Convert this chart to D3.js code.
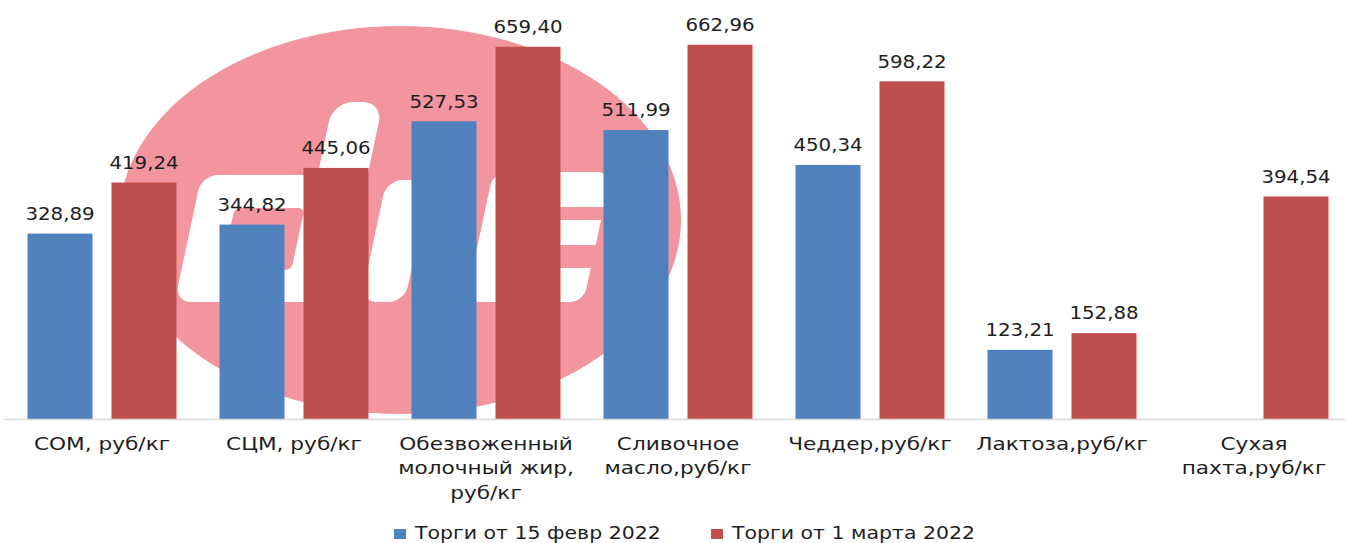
<!DOCTYPE html>
<html>
<head>
<meta charset="utf-8">
<script src="https://cdn.jsdelivr.net/npm/d3@7"></script>
<style>
	body { margin: 0; background: #fff; }
	svg { display: block; }
	text { font-family: "DejaVu Sans", sans-serif; fill: #1e1e1e; }
</style>
</head>
<body>
<svg id="chart" width="1349" height="543"></svg>
<script>

var categories = ["СОМ, руб/кг", "СЦМ, руб/кг", "Обезвоженный\nмолочный жир,\nруб/кг", "Сливочное\nмасло,руб/кг", "Чеддер,руб/кг", "Лактоза,руб/кг", "Сухая\nпахта,руб/кг"];
var seriesNames = ["Торги от 15 февр 2022", "Торги от 1 марта 2022"];
var feb15 = [328.89, 344.82, 527.53, 511.99, 450.34, 123.21, null];
var mar1 = [419.24, 445.06, 659.40, 662.96, 598.22, 152.88, 394.54];
var seriesColors = ["#4f81bd", "#c0504d"];

var ru = d3.formatLocale({decimal: ",", thousands: " ", grouping: [3], currency: ["", " ₽"]});
var fmt = ru.format(".2f");

var svg = d3.select("#chart");
var width = 1349, height = 543;
var baseY = 419.5;

// text in the picture is a bit stretched sideways, so stretch with scaleX
function putText(sel, x, y, sx){
	sel.attr("transform", "translate(" + x + "," + y + ") scale(" + sx + ",1)");
}

//------------------------------ watermark ------------------------------

var wm = svg.append("g").attr("class", "watermark");
wm.append("ellipse")
	.attr("cx", 400).attr("cy", 220)
	.attr("rx", 281).attr("ry", 194)
	.attr("fill", "#f2959e");

var logo = wm.append("g").attr("transform", "translate(400,220) skewX(-12)").attr("fill", "#fff");
// d: bowl + stem
logo.append("rect").attr("x", -208).attr("y", -45).attr("width", 160).attr("height", 127).attr("rx", 16);
logo.append("rect").attr("x", -92).attr("y", -118).attr("width", 50).attr("height", 200).attr("rx", 20);
logo.append("rect").attr("x", -168).attr("y", -12).attr("width", 70).attr("height", 62).attr("rx", 6).attr("fill", "#f2959e");
// middle piece
logo.append("rect").attr("x", -22).attr("y", -40).attr("width", 44).attr("height", 122).attr("rx", 16);
// E
logo.append("rect").attr("x", 83).attr("y", -48).attr("width", 118).attr("height", 130).attr("rx", 14);
logo.append("rect").attr("x", 112).attr("y", -13).attr("width", 92).attr("height", 13).attr("fill", "#f2959e");
logo.append("rect").attr("x", 112).attr("y", 25).attr("width", 92).attr("height", 23).attr("fill", "#f2959e");

//------------------------------ scales ------------------------------

var x0 = d3.scaleBand()
	.domain(d3.range(categories.length))
	.range([6, 1350])
	.paddingInner(0.224)
	.paddingOuter(0.112);

var x1 = d3.scaleBand()
	.domain([0, 1])
	.range([0, x0.bandwidth()])
	.paddingInner(0.226);

var y = d3.scaleLinear()
	.domain([0, 700])
	.range([baseY, baseY - 700 * 0.5653]);

var rows = categories.map(function(c, i){
	return {cat: i, values: [feb15[i], mar1[i]]};
});

//------------------------------ bars ------------------------------

var groups = svg.append("g").selectAll("g")
	.data(rows)
	.join("g")
	.attr("transform", function(d){ return "translate(" + x0(d.cat) + ",0)"; });

var cells = groups.selectAll("g")
	.data(function(d){
		return d.values.map(function(v, s){ return {s: s, v: v}; }).filter(function(e){ return e.v != null; });
	})
	.join("g");

cells.append("rect")
	.attr("x", function(d){ return x1(d.s); })
	.attr("y", function(d){ return y(d.v); })
	.attr("width", x1.bandwidth())
	.attr("height", function(d){ return y(0) - y(d.v); })
	.attr("fill", function(d){ return seriesColors[d.s]; });

cells.append("text")
	.attr("text-anchor", "middle")
	.style("font-size", "18px")
	.text(function(d){ return fmt(d.v); })
	.each(function(d){
		putText(d3.select(this), x1(d.s) + x1.bandwidth() / 2, y(d.v) - 13.7, 1.1);
	});

//------------------------------ axis ------------------------------

var xAxis = svg.append("g")
	.attr("transform", "translate(0," + baseY + ")")
	.call(d3.axisBottom(x0).tickSize(0).tickFormat(""));
xAxis.select(".domain").attr("d", "M4,0H1345").attr("stroke", "#d9d9d9").attr("stroke-width", 1.3);

var catLabels = svg.append("g").selectAll("text")
	.data(categories)
	.join("text")
	.attr("text-anchor", "middle")
	.style("font-size", "18.5px")
	.each(function(c, i){
		var t = d3.select(this);
		putText(t, x0(i) + x0.bandwidth() / 2, 450, 1.17);
		c.split("\n").forEach(function(line, k){
			t.append("tspan").attr("x", 0).attr("y", k * 24.5).text(line);
		});
	});

//------------------------------ legend ------------------------------

var legend = svg.append("g");
var lx = [394, 711];
seriesNames.forEach(function(name, s){
	legend.append("rect")
		.attr("x", lx[s]).attr("y", 529)
		.attr("width", 12).attr("height", 10)
		.attr("fill", seriesColors[s]);
	var t = legend.append("text")
		.style("font-size", "17.5px")
		.text(name);
	putText(t, lx[s] + 21, 538.5, 1.17);
});

</script>
</body>
</html>
